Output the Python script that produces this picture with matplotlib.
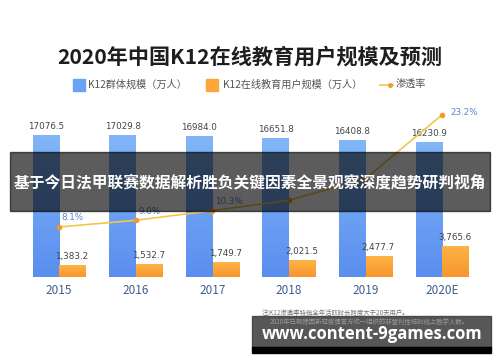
import matplotlib
matplotlib.use('Agg')
import matplotlib.pyplot as plt
from matplotlib.patches import Rectangle
from matplotlib.colors import LinearSegmentedColormap
import numpy as np

plt.rcParams['font.family'] = ['Noto Sans CJK SC', 'DejaVu Sans']

# ---- data ----
years = ['2015', '2016', '2017', '2018', '2019', '2020E']
k12_pop = [17076.5, 17029.8, 16984.0, 16651.8, 16408.8, 16230.9]
online_users = [1383.2, 1532.7, 1749.7, 2021.5, 2477.7, 3765.6]
penetration = [8.1, 9.0, 10.3, 11.7, 14.6, 23.2]
k12_labels = ['17076.5', '17029.8', '16984.0', '16651.8', '16408.8', '16230.9']
online_labels = ['1,383.2', '1,532.7', '1,749.7', '2,021.5', '2,477.7', '3,765.6']
pen_labels = ['8.1%', '9.0%', '10.3%', '', '', '23.2%']  # 2018/2019 hidden under banner

title = '2020年中国K12在线教育用户规模及预测'
legend_names = ['K12群体规模（万人）', 'K12在线教育用户规模（万人）', '渗透率']
banner_text = '基于今日法甲联赛数据解析胜负关键因素全景观察深度趋势研判视角'
note1 = '注:K12渗透率特指全年活跃时长跨度大于20天用户。'
note2 = '2020年已剔除因新冠疫情官方统一组织的非营利性临时线上教学人数。'
watermark = 'www.content-9games.com'

W, H = 500, 362
fig = plt.figure(figsize=(5, 3.62), dpi=100)
fig.patch.set_facecolor('white')

def fx(px):
    return px / W

def fy(py):
    return (H - py) / H

ax = fig.add_axes([fx(20), fy(277), fx(481) - fx(20), fy(102.3) - fy(277)])
x = np.arange(len(years))
bw = 0.34
blue = '#6ba2f3'
orange = '#fca63c'
blue_cmap = LinearSegmentedColormap.from_list('b', ['#5a8eef', '#82b6f8'])
orange_cmap = LinearSegmentedColormap.from_list('o', ['#f8952c', '#fdb446'])

XL = (-0.51, 5.51)
YL = (0, 21000)

bars_b = ax.bar(x - bw / 2 - 0.005, k12_pop, width=bw, color='none', zorder=2)
bars_o = ax.bar(x + bw / 2 + 0.005, online_users, width=bw, color='none', zorder=2)
grad = np.linspace(0, 1, 128).reshape(-1, 1)
for bars, cmap in ((bars_b, blue_cmap), (bars_o, orange_cmap)):
    for b in bars:
        x0, y0 = b.get_x(), b.get_y()
        x1, y1 = x0 + b.get_width(), y0 + b.get_height()
        im = ax.imshow(grad, extent=[x0, x1, y0, y1], origin='lower', aspect='auto',
                       cmap=cmap, zorder=2, interpolation='bilinear')
        im.set_clip_path(b)

ax.set_xlim(*XL)
ax.set_ylim(*YL)
ax.set_aspect('auto')
for s in ax.spines.values():
    s.set_visible(False)
ax.set_yticks([])
ax.set_xticks(x)
ax.set_xticklabels(years, fontsize=8.5, color='#3e5e8e')
ax.tick_params(axis='x', length=0, pad=5)
ax.axhline(0, color='#e6e6e6', lw=0.8, zorder=1)

for xi, v, lab in zip(x, k12_pop, k12_labels):
    ax.annotate(lab, (xi - bw / 2, v), xytext=(0, 3), textcoords='offset points',
                ha='center', va='bottom', fontsize=6.3, color='#444444',
                family=['DejaVu Sans'])
for xi, v, lab in zip(x, online_users, online_labels):
    ax.annotate(lab, (xi + bw / 2, v), xytext=(0, 3), textcoords='offset points',
                ha='center', va='bottom', fontsize=6.3, color='#444444',
                family=['DejaVu Sans'])

ax2 = ax.twinx()
ax2.set_ylim(1.36, 24.9)
ax2.set_yticks([])
for s in ax2.spines.values():
    s.set_visible(False)
ax2.plot(x, penetration, color='#f3c64a', lw=1.2, zorder=3)
ax2.scatter(x, penetration, s=9, color='#f09a2c', zorder=4)
offsets = [(2, 6.5), (2, 6.5), (2, 6.5), (2, 6.5), (2, 6.5), (6, 1.5)]
for xi, v, lab, off in zip(x, penetration, pen_labels, offsets):
    if lab:
        ax2.annotate(lab, (xi, v), xytext=off, textcoords='offset points',
                     ha='left', va='center', fontsize=6.3, color='#5d85c8',
                     family=['DejaVu Sans'])

# title
fig.text(0.5, fy(57), title, ha='center', va='center', fontsize=15.2,
         weight='bold', color='#1e1e1e')

# legend
ly = fy(85)
fig.add_artist(Rectangle((fx(73), fy(91)), fx(12), 12 / H, transform=fig.transFigure,
                         color=blue))
fig.text(fx(88), ly, legend_names[0], ha='left', va='center', fontsize=7.3, color='#555555')
fig.add_artist(Rectangle((fx(206), fy(91)), fx(12), 12 / H, transform=fig.transFigure,
                         color=orange))
fig.text(fx(223), ly, legend_names[1], ha='left', va='center', fontsize=7.3, color='#555555')
fig.add_artist(plt.Line2D([fx(380), fx(393)], [ly, ly], transform=fig.transFigure,
                          color='#f3c64a', lw=1.2))
fig.add_artist(plt.Line2D([fx(390)], [ly], transform=fig.transFigure, marker='o',
                          ms=2.5, color='#f09a2c'))
fig.text(fx(396), ly, legend_names[2], ha='left', va='center', fontsize=7.3, color='#555555')

# banner overlay
fig.add_artist(Rectangle((fx(10), fy(211)), fx(480), 59 / H, transform=fig.transFigure,
                         color='black', alpha=0.64, zorder=10))
fig.text(0.5, fy(182), banner_text, ha='center', va='center', fontsize=11.35,
         weight='bold', color='white', zorder=11)

# notes
fig.text(fx(262), fy(313), note1, ha='left', va='center', fontsize=4.6, color='#777777')
fig.add_artist(Rectangle((fx(252), fy(347)), fx(239), 31 / H, transform=fig.transFigure,
                         color='#3a3a3a', alpha=0.85, zorder=10))
fig.add_artist(Rectangle((fx(252), fy(353)), fx(239), 6 / H, transform=fig.transFigure,
                         color='black', zorder=10))
fig.text(fx(270), fy(322), note2, ha='left', va='center', fontsize=4.6, color='#999999',
         zorder=11)
fig.text(fx(262), fy(334), watermark, ha='left', va='center', fontsize=12,
         weight='bold', color='white', zorder=11, family=['Open Sans', 'DejaVu Sans'])

fig.savefig('out.png', dpi=100, facecolor='white')
